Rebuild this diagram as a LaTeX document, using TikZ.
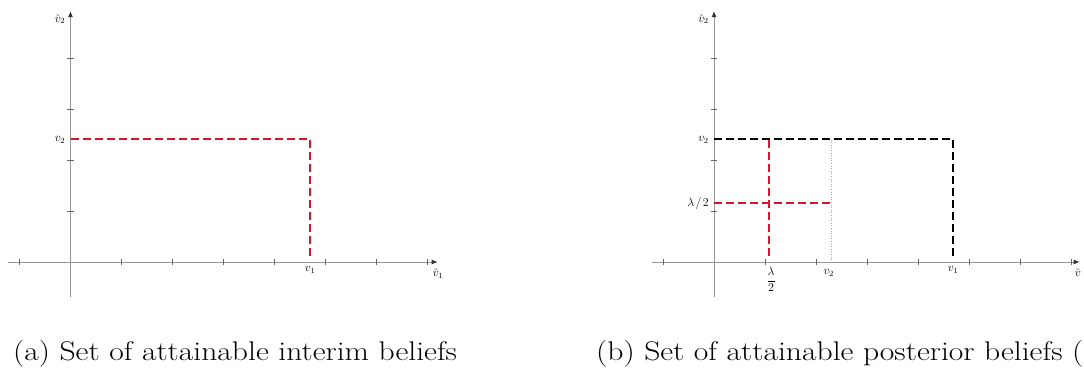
\documentclass[tikz,border=0pt]{standalone}
\usetikzlibrary{arrows.meta}
\definecolor{axisgray}{RGB}{150,150,150}
\definecolor{dashred}{RGB}{214,20,44}
\begin{document}
\begin{tikzpicture}[x=1pt,y=1pt,
  axisline/.style={draw=axisgray,line width=0.9pt},
  axisarrow/.style={axisline,-{Latex[length=6pt,width=5pt,color=black!80]}},
  tickmark/.style={draw=black!60,line width=0.6pt},
  reddash/.style={draw=dashred,line width=2pt,dash pattern=on 8pt off 4pt},
  blackdash/.style={draw=black,line width=2pt,dash pattern=on 8pt off 4pt},
  grayline/.style={draw=black!35,line width=0.6pt,dotted},
  lab/.style={inner sep=1pt,font=\fontsize{12}{14}\selectfont},
  captext/.style={inner sep=0pt,font=\fontsize{27}{31}\selectfont}
]
\useasboundingbox (0,0) rectangle (1084,372);

% ---------- panel (a)
\begin{scope}[shift={(70.5,110)},x=51pt,y=51pt]
  \coordinate (aXl) at (-1.22,0);
  \coordinate (aXr) at (7.2,0);
  \coordinate (aYb) at (0,-0.69);
  \coordinate (aYt) at (0,4.92);
  \draw[axisarrow] (aXl) -- (aXr);
  \draw[axisarrow] (aYb) -- (aYt);
  \foreach \i in {-1,1,2,3,4,5,6,7} \draw[tickmark] (\i,-0.06) -- (\i,0.06);
  \foreach \j in {1,2,3,4} \draw[tickmark] (-0.06,\j) -- (0.06,\j);
  \coordinate (aV2) at (0,2.405);
  \coordinate (aC) at (4.7,2.405);
  \coordinate (aV1) at (4.7,0.06);
  \draw[reddash] (aV2) -- (aC) -- (aV1);
  \node[lab,anchor=east] (aLv2) at (-0.08,2.4) {$v_2$};
  \node[lab,anchor=north] (aLv1) at (4.7,-0.06) {$v_1$};
  \node[lab,anchor=east] (aLy) at (-0.08,4.76) {$\check v_2$};
  \node[lab,anchor=north west] (aLx) at (7.08,-0.12) {$\check v_1$};
\end{scope}

% ---------- panel (b)
\begin{scope}[shift={(714,110)},x=51pt,y=51pt]
  \coordinate (bXl) at (-1.22,0);
  \coordinate (bXr) at (7.17,0);
  \coordinate (bYb) at (0,-0.69);
  \coordinate (bYt) at (0,4.92);
  \draw[axisarrow] (bXl) -- (bXr);
  \draw[axisarrow] (bYb) -- (bYt);
  \foreach \i in {-1,1,2,3,4,5,6,7} \draw[tickmark] (\i,-0.06) -- (\i,0.06);
  \foreach \j in {1,2,3,4} \draw[tickmark] (-0.06,\j) -- (0.06,\j);
  \coordinate (bV2) at (0,2.405);
  \coordinate (bC) at (4.69,2.405);
  \coordinate (bV1) at (4.69,0.06);
  \coordinate (bDt) at (2.3,2.4);
  \coordinate (bDb) at (2.3,0);
  \coordinate (bRt) at (1.08,2.4);
  \coordinate (bRb) at (1.08,0.06);
  \coordinate (bHl) at (0,1.15);
  \coordinate (bHr) at (2.3,1.15);
  \draw[grayline] (bDt) -- (bDb);
  \draw[blackdash] (bV2) -- (bC) -- (bV1);
  \draw[reddash] (bRt) -- (bRb);
  \draw[reddash] (bHl) -- (bHr);
  \node[lab,anchor=east] (bLv2) at (-0.08,2.4) {$v_2$};
  \node[lab,anchor=east] (bLl) at (-0.08,1.15) {$\lambda\mkern2mu/\mkern2mu2$};
  \node[lab,anchor=north] (bLv1) at (4.69,-0.06) {$v_1$};
  \node[lab,anchor=north] (bLv2x) at (2.25,-0.12) {$v_2$};
  \node[lab,anchor=north] (bLlx) at (1.12,-0.08) {$\displaystyle\frac{\lambda}{2}$};
  \node[lab,anchor=east] (bLy) at (-0.08,4.76) {$\check v_2$};
  \node[lab,anchor=north west] (bLx) at (7.05,-0.12) {$\check v$};
\end{scope}

% ---------- captions
\node[captext,anchor=base west] (capA) at (13,11) {\scalebox{1.17}[1]{(a) Set of attainable interim beliefs}};
\node[captext,anchor=base west] (capB) at (596,11) {\scalebox{1.17}[1]{(b) Set of attainable posterior beliefs (}};
\end{tikzpicture}
\end{document}
